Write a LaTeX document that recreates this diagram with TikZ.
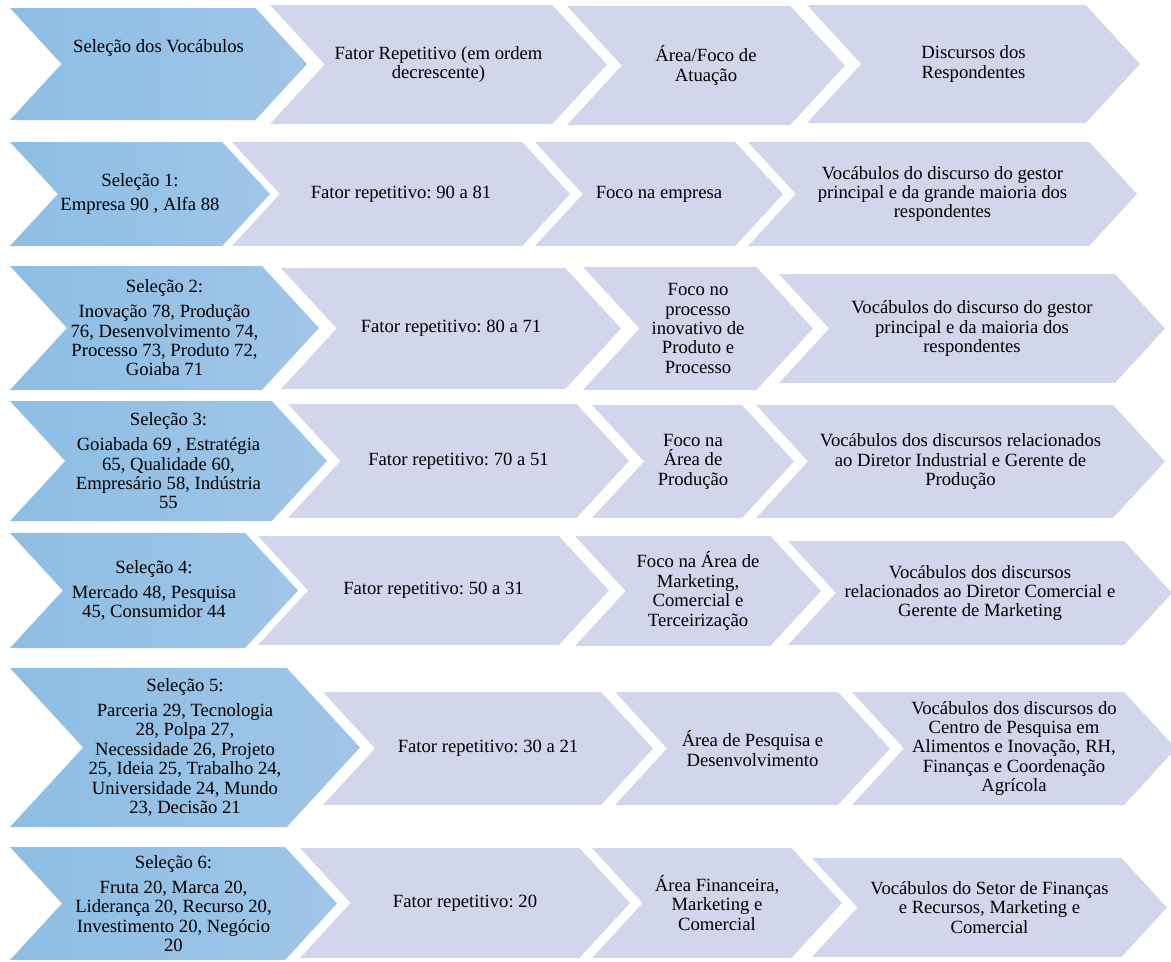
\documentclass[tikz,border=0pt]{standalone}
\usepackage{fontspec}
\setmainfont{Liberation Serif}
\frenchspacing

\definecolor{selblue}{RGB}{160,197,231}
\definecolor{selblueL}{RGB}{141,190,228}
\definecolor{lav}{RGB}{209,214,234}

% chevron: [text options]{name}{style}{left}{point}{top}{bottom}{text}
\newcommand{\chevron}[8][]{%
  \pgfmathsetmacro{\chd}{0.46*(#7-#6)}%
  \pgfmathsetmacro{\chm}{(#6+#7)/2}%
  \pgfmathsetmacro{\chx}{(#4+#5)/2}%
  \path[#3] (#4,#6) -- ({#5-\chd},#6) -- (#5,\chm) -- ({#5-\chd},#7) -- (#4,#7) -- ({#4+\chd},\chm) -- cycle;
  \node[txt,#1] (#2) at (\chx,\chm) {#8};
}

\begin{document}
\begin{tikzpicture}[x=0.75pt, y=-0.75pt,
    sel/.style={left color=selblueL, right color=selblue},
    lavbox/.style={fill=lav},
    txt/.style={align=center, inner sep=0pt, font=\fontsize{14}{14.6}\selectfont}]
  \useasboundingbox (0,0) rectangle (1171,961);

  % Header
  \chevron[yshift=12pt]{sel0}{sel}{10}{307}{8}{120}{Seleção dos Vocábulos}
  \chevron{fator0}{lavbox}{270}{607}{5}{124}{Fator Repetitivo (em ordem\\decrescente)}
  \chevron{area0}{lavbox}{567}{845}{6}{125}{Área/Foco de\\Atuação}
  \chevron{disc0}{lavbox}{807}{1140}{5}{123}{Discursos dos\\Respondentes}

  % Selecao 1
  \chevron{sel1}{sel}{10}{270}{142}{246}{Seleção 1:\\[4pt]Empresa 90 , Alfa 88}
  \chevron{fator1}{lavbox}{232}{570}{142}{246}{Fator repetitivo: 90 a 81}
  \chevron{area1}{lavbox}{535}{783}{142}{246}{Foco na empresa}
  \chevron{disc1}{lavbox}{748}{1137}{142}{246}{Vocábulos do discurso do gestor\\principal e da grande maioria dos\\respondentes}

  % Selecao 2
  \chevron{sel2}{sel}{10}{319}{266}{390}{Seleção 2:\\[4pt]Inovação 78, Produção\\76, Desenvolvimento 74,\\Processo 73, Produto 72,\\Goiaba 71}
  \chevron{fator2}{lavbox}{281}{621}{268}{389}{Fator repetitivo: 80 a 71}
  \chevron{area2}{lavbox}{583}{813}{267}{390}{Foco no\\processo\\inovativo de\\Produto e\\Processo}
  \chevron{disc2}{lavbox}{779}{1165}{274}{383}{Vocábulos do discurso do gestor\\principal e da maioria dos\\respondentes}

  % Selecao 3
  \chevron{sel3}{sel}{10}{327}{401}{521}{Seleção 3:\\[4pt]Goiabada 69 , Estratégia\\65, Qualidade 60,\\Empresário 58, Indústria\\55}
  \chevron{fator3}{lavbox}{288}{629}{404}{518}{Fator repetitivo: 70 a 51}
  \chevron{area3}{lavbox}{592}{794}{405}{518}{Foco na\\Área de\\Produção}
  \chevron{disc3}{lavbox}{756}{1165}{405}{518}{Vocábulos dos discursos relacionados\\ao Diretor Industrial e Gerente de\\Produção}

  % Selecao 4
  \chevron{sel4}{sel}{10}{298}{533}{648}{Seleção 4:\\[4pt]Mercado 48, Pesquisa\\45, Consumidor 44}
  \chevron{fator4}{lavbox}{258}{609}{536}{645}{Fator repetitivo: 50 a 31}
  \chevron{area4}{lavbox}{575}{821}{536}{646}{Foco na Área de\\Marketing,\\Comercial e\\Terceirização}
  \chevron{disc4}{lavbox}{788}{1172}{541}{645}{Vocábulos dos discursos\\relacionados ao Diretor Comercial e\\Gerente de Marketing}

  % Selecao 5
  \chevron{sel5}{sel}{10}{360}{668}{827}{Seleção 5:\\[4pt]Parceria 29, Tecnologia\\28, Polpa 27,\\Necessidade 26, Projeto\\25, Ideia 25, Trabalho 24,\\Universidade 24, Mundo\\23, Decisão 21}
  \chevron{fator5}{lavbox}{323}{653}{692}{805}{Fator repetitivo: 30 a 21}
  \chevron{area5}{lavbox}{615}{890}{692}{805}{Área de Pesquisa e\\Desenvolvimento}
  \chevron{disc5}{lavbox}{852}{1176}{692}{805}{Vocábulos dos discursos do\\Centro de Pesquisa em\\Alimentos e Inovação, RH,\\Finanças e Coordenação\\Agrícola}

  % Selecao 6
  \chevron{sel6}{sel}{10}{337}{847}{960}{Seleção 6:\\[4pt]Fruta 20, Marca 20,\\Liderança 20, Recurso 20,\\Investimento 20, Negócio\\20}
  \chevron{fator6}{lavbox}{300}{630}{848}{958}{Fator repetitivo: 20}
  \chevron{area6}{lavbox}{592}{842}{848}{958}{Área Financeira,\\Marketing e\\Comercial}
  \chevron{disc6}{lavbox}{812}{1167}{858}{957}{Vocábulos do Setor de Finanças\\e Recursos, Marketing e\\Comercial}
\end{tikzpicture}
\end{document}
